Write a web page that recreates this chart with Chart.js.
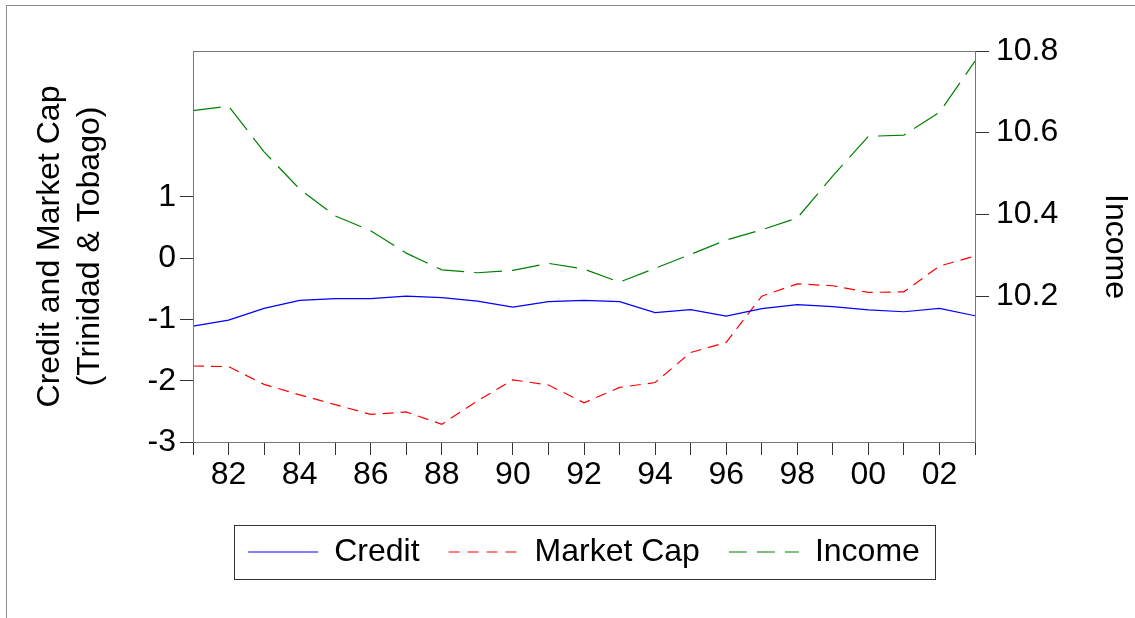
<!DOCTYPE html>
<html>
<head>
<meta charset="utf-8">
<script src="https://cdn.jsdelivr.net/npm/chart.js@4.4.1/dist/chart.umd.min.js"></script>
<style>
  html,body{margin:0;padding:0;background:#fff;}
  #wrap{position:relative;width:1135px;height:618px;overflow:hidden;}
  #frame{position:absolute;left:6px;top:5px;width:1300px;height:800px;border:1px solid #8c8c8c;}
  #c{position:absolute;left:0;top:0;}
</style>
</head>
<body>
<div id="wrap"><div id="frame"></div><canvas id="c" width="1135" height="618" style="width:1135px;height:618px"></canvas></div>
<script>
/* ---------- data ---------- */
const years = [1981,1982,1983,1984,1985,1986,1987,1988,1989,1990,1991,1992,
               1993,1994,1995,1996,1997,1998,1999,2000,2001,2002,2003];
const credit = [-1.11,-1.01,-0.82,-0.69,-0.66,-0.66,-0.62,-0.645,-0.70,-0.80,-0.71,-0.69,
                -0.71,-0.89,-0.84,-0.945,-0.825,-0.76,-0.79,-0.845,-0.875,-0.82,-0.94];
const marketCap = [-1.76,-1.77,-2.06,-2.23,-2.39,-2.55,-2.51,-2.71,-2.33,-1.985,-2.07,-2.36,
                   -2.11,-2.03,-1.54,-1.375,-0.62,-0.42,-0.45,-0.56,-0.55,-0.13,0.035];
const income = [10.654,10.665,10.553,10.462,10.396,10.36,10.305,10.264,10.257,10.263,10.28,10.266,
                10.234,10.268,10.302,10.337,10.362,10.391,10.494,10.591,10.594,10.65,10.775];
const leftTicks  = [-3,-2,-1,0,1];
const rightTicks = [10.2,10.4,10.6,10.8];

/* ---------- look ---------- */
const FONT = "'Liberation Sans', Arial, Helvetica, sans-serif";
Chart.defaults.font.family = FONT;
Chart.defaults.color = '#000';
const legendDash = [[], [11,8], [18,10]];

/* plot frame round the chart area */
const plotFrame = {
  id:'plotFrame',
  afterDatasetsDraw(chart){
    const {ctx, chartArea:a} = chart;
    ctx.save();
    ctx.strokeStyle = '#777'; ctx.lineWidth = 1;
    ctx.strokeRect(Math.round(a.left)+.5, Math.round(a.top)+.5,
                   Math.round(a.right-a.left), Math.round(a.bottom-a.top));
    ctx.restore();
  }
};
/* box round the legend */
const legendFrame = {
  id:'legendFrame',
  afterDraw(chart){
    const hb = chart.legend && chart.legend.legendHitBoxes;
    if(!hb || !hb.length) return;
    const last = hb[hb.length-1];
    const l = Math.round(hb[0].left - 14), r = Math.round(last.left + last.width + 15);
    const t = Math.round(hb[0].top - 11),  b = Math.round(hb[0].top + hb[0].height + 11);
    const ctx = chart.ctx;
    ctx.save();
    ctx.strokeStyle = '#333'; ctx.lineWidth = 1;
    ctx.strokeRect(l+.5, t+.5, r-l, b-t);
    ctx.restore();
  }
};

const tickGrid = (len) => ({drawOnChartArea:false, drawTicks:true, tickLength:len, color:'#333', lineWidth:1});

new Chart(document.getElementById('c'), {
  type:'line',
  data:{
    labels: years,
    datasets:[
      {label:'Credit', data:credit, yAxisID:'y', borderColor:'#0000ff', borderWidth:1.2,
       pointRadius:0, pointStyle:'line', tension:0, fill:false},
      {label:'Market Cap', data:marketCap, yAxisID:'y', borderColor:'#ff0000', borderWidth:1.2,
       borderDash:[11,7], pointRadius:0, pointStyle:'line', tension:0, fill:false},
      {label:'Income', data:income, yAxisID:'y1', borderColor:'#008000', borderWidth:1.2,
       borderDash:[28,10], pointRadius:0, pointStyle:'line', tension:0, fill:false}
    ]
  },
  options:{
    responsive:false,
    animation:false,
    layout:{padding:{top:51, left:0, right:0, bottom:40}},
    plugins:{
      tooltip:{enabled:false},
      legend:{
        position:'bottom',
        fullSize:false,
        labels:{
          usePointStyle:true, pointStyleWidth:70, padding:29,
          font:{size:32}, color:'#000',
          generateLabels(chart){
            const items = Chart.defaults.plugins.legend.labels.generateLabels(chart);
            items.forEach((it,i)=>{ it.lineDash = legendDash[i]; it.lineWidth = 1.2; });
            return items;
          }
        }
      }
    },
    scales:{
      x:{
        type:'category', offset:false,
        grid:Object.assign(tickGrid(13), {offset:false}),
        border:{display:false},
        ticks:{
          font:{size:32}, padding:1, autoSkip:false, maxRotation:0, minRotation:0,
          callback(v){ const y = years[v]; return y % 2 === 0 ? String(y).slice(2) : ''; }
        },
        afterFit(s){ s.height = 65; }
      },
      y:{
        position:'left', min:-3, max:3.38,
        afterBuildTicks(s){ s.ticks = leftTicks.map(v=>({value:v})); },
        grid:tickGrid(13),
        border:{display:false},
        ticks:{font:{size:32}, padding:4, callback:v=>String(v)},
        title:{display:true, text:['Credit and Market Cap','(Trinidad & Tobago)'],
               font:{size:32, lineHeight:1.25}, padding:{top:30, bottom:0}},
        afterFit(s){ s.width = 193; }
      },
      y1:{
        position:'right', min:9.8425, max:10.8,
        afterBuildTicks(s){ s.ticks = rightTicks.map(v=>({value:v})); },
        grid:tickGrid(14),
        border:{display:false},
        ticks:{font:{size:32}, padding:7, callback:v=>v.toFixed(1)},
        title:{display:true, text:'Income', font:{size:32, lineHeight:1.25}, padding:{top:0, bottom:0}},
        afterFit(s){ s.width = 160; }
      }
    }
  },
  plugins:[plotFrame, legendFrame]
});
</script>
</body>
</html>
